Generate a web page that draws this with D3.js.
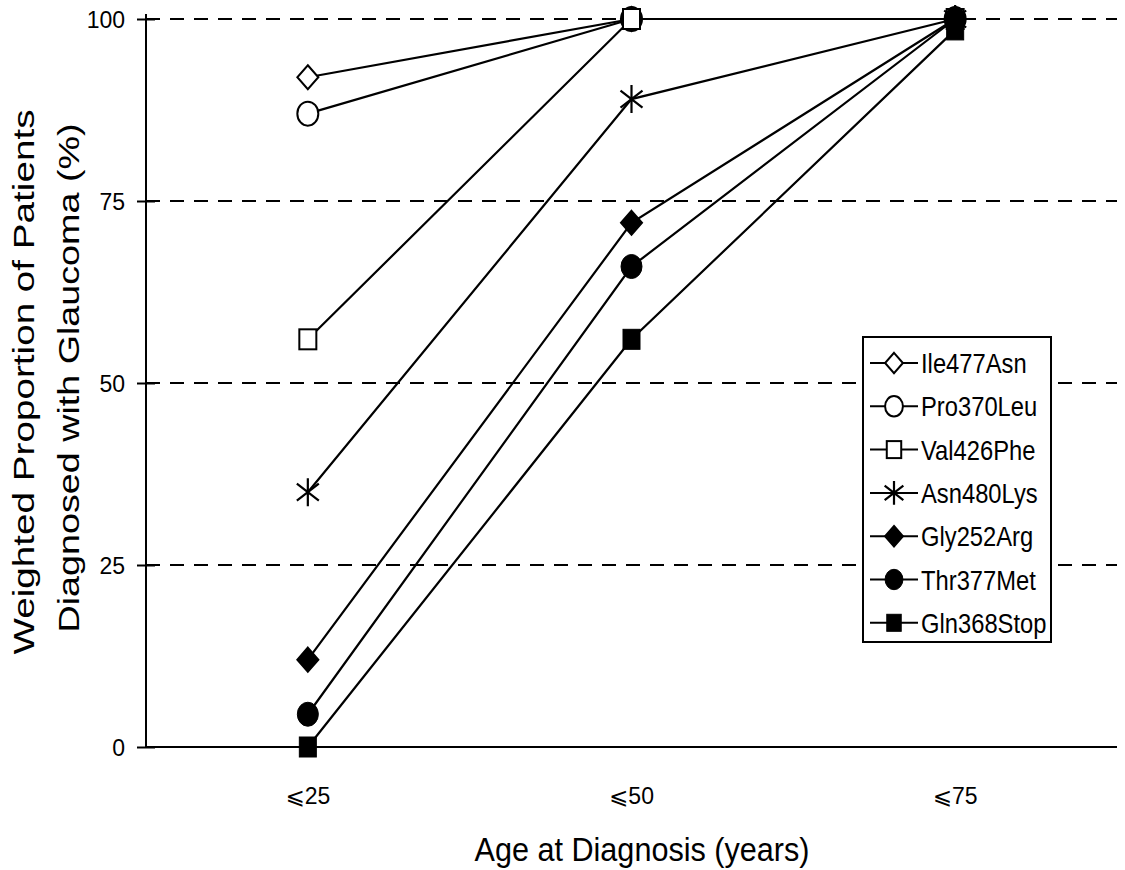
<!DOCTYPE html>
<html>
<head>
<meta charset="utf-8">
<script src="https://cdn.jsdelivr.net/npm/d3@7"></script>
<style>
  html, body { margin: 0; padding: 0; background: #fff; }
  svg { display: block; }
  text { font-family: "Liberation Sans", Arial, "DejaVu Sans", sans-serif; fill: #000; }
</style>
</head>
<body>
<svg id="chart" width="1125" height="870"></svg>
<script>
// Age groups at diagnosis
const categories = ["\u2A7D25", "\u2A7D50", "\u2A7D75"];

// Weighted proportion (%) diagnosed, per mutation
const seriesNames = ["Ile477Asn", "Pro370Leu", "Val426Phe", "Asn480Lys", "Gly252Arg", "Thr377Met", "Gln368Stop"];
const ile477Asn  = [92, 100, 100];
const pro370Leu  = [87, 100, 100];
const val426Phe  = [56, 100, 100];
const asn480Lys  = [35, 89, 100];
const gly252Arg  = [12, 72, 100];
const thr377Met  = [4.5, 66, 100];
const gln368Stop = [0, 56, 98.5];

const yTicks = [0, 25, 50, 75, 100];
const gridValues = [25, 50, 75, 100];

const seriesValues = [ile477Asn, pro370Leu, val426Phe, asn480Lys, gly252Arg, thr377Met, gln368Stop];
const markerKinds = ["diamondOpen", "circleOpen", "squareOpen", "asterisk", "diamond", "circle", "square"];

const svg = d3.select("#chart");
const plotLeft = 146, plotRight = 1117, plotTop = 19, plotBottom = 747;

const x = d3.scaleBand().domain(categories).range([plotLeft, plotRight]);
const y = d3.scaleLinear().domain([0, 100]).range([plotBottom, plotTop]);

// Dashed horizontal gridlines
svg.append("g").selectAll("line").data(gridValues).join("line")
  .attr("x1", plotLeft).attr("x2", plotRight)
  .attr("y1", d => y(d)).attr("y2", d => y(d))
  .attr("stroke", "#000").attr("stroke-width", 2)
  .attr("stroke-dasharray", "14,10");

// Y axis with ticks crossing the line
const yAxis = svg.append("g").attr("transform", `translate(${plotLeft},0)`)
  .call(d3.axisLeft(y).tickValues(yTicks).tickSize(9).tickPadding(12));
yAxis.select(".domain").remove();
yAxis.append("line").attr("x1", 0).attr("x2", 0).attr("y1", plotTop - 5).attr("y2", plotBottom)
  .attr("stroke", "#000").attr("stroke-width", 2);
yAxis.selectAll(".tick line").attr("x1", -9).attr("x2", 9).attr("stroke", "#000").attr("stroke-width", 2);
yAxis.selectAll(".tick text").attr("font-size", 23).attr("font-family", "Liberation Sans, Arial, sans-serif")
  .attr("fill", "#000").attr("dy", "0.38em");

// X axis (category labels, no tick marks)
const xAxis = svg.append("g").attr("transform", `translate(0,${plotBottom})`)
  .call(d3.axisBottom(x).tickSize(0).tickPadding(0));
xAxis.select(".domain").remove();
xAxis.append("line").attr("x1", plotLeft).attr("x2", plotRight).attr("y1", 0).attr("y2", 0)
  .attr("stroke", "#000").attr("stroke-width", 2);
xAxis.selectAll(".tick text").attr("font-size", 23)
  .attr("font-family", "Liberation Sans, DejaVu Sans, sans-serif")
  .attr("fill", "#000").attr("dy", 0).attr("y", 57);

// Axis titles
svg.append("text").attr("x", 642).attr("y", 861).attr("text-anchor", "middle")
  .attr("font-size", 33).attr("textLength", 335).attr("lengthAdjust", "spacingAndGlyphs")
  .text("Age at Diagnosis (years)");
svg.append("text").attr("transform", "translate(34,382) rotate(-90)").attr("text-anchor", "middle")
  .attr("font-size", 29).attr("textLength", 545).attr("lengthAdjust", "spacingAndGlyphs")
  .text("Weighted Proportion of Patients");
svg.append("text").attr("transform", "translate(79,378) rotate(-90)").attr("text-anchor", "middle")
  .attr("font-size", 29).attr("textLength", 509).attr("lengthAdjust", "spacingAndGlyphs")
  .text("Diagnosed with Glaucoma (%)");

// Marker shapes, drawn slightly taller than wide
function drawMarker(g, kind, k) {
  const hw = 10.5 * k, hh = 12 * k;
  const filled = !kind.endsWith("Open") && kind !== "asterisk";
  const fill = filled ? "#000" : "#fff";
  const base = kind.replace("Open", "");
  if (base === "diamond") {
    g.append("path").attr("d", `M0,${-hh}L${hw},0L0,${hh}L${-hw},0Z`)
      .attr("fill", fill).attr("stroke", "#000").attr("stroke-width", 2);
  } else if (base === "circle") {
    g.append("ellipse").attr("rx", 10.5 * k).attr("ry", 12 * k)
      .attr("fill", fill).attr("stroke", "#000").attr("stroke-width", filled ? 1 : 2);
  } else if (base === "square") {
    g.append("rect").attr("x", -8.5 * k).attr("y", -10 * k).attr("width", 17 * k).attr("height", 20 * k)
      .attr("fill", fill).attr("stroke", "#000").attr("stroke-width", filled ? 1 : 2);
  } else {
    const v = 14 * k, dx = 11 * k, dy = 8.5 * k;
    g.append("path").attr("d", `M0,${-v}L0,${v}M${-dx},${-dy}L${dx},${dy}M${-dx},${dy}L${dx},${-dy}`)
      .attr("fill", "none").attr("stroke", "#000").attr("stroke-width", 2.2);
  }
}

// Series lines and markers
const line = d3.line().x((d, i) => x(categories[i]) + x.bandwidth() / 2).y(d => y(d));
seriesValues.forEach((vals, s) => {
  const g = svg.append("g");
  g.append("path").datum(vals).attr("d", line)
    .attr("fill", "none").attr("stroke", "#000").attr("stroke-width", 2.2);
  g.selectAll("g.pt").data(vals).join("g").attr("class", "pt")
    .attr("transform", (d, i) => `translate(${x(categories[i]) + x.bandwidth() / 2},${y(d)})`)
    .each(function () { drawMarker(d3.select(this), markerKinds[s], 1); });
});

// Legend
const lg = svg.append("g");
lg.append("rect").attr("x", 863).attr("y", 337).attr("width", 188).attr("height", 305)
  .attr("fill", "#fff").attr("stroke", "#000").attr("stroke-width", 2);
seriesNames.forEach((name, i) => {
  const cy = 363 + i * 43.3;
  const row = lg.append("g");
  row.append("line").attr("x1", 870).attr("x2", 918).attr("y1", cy).attr("y2", cy)
    .attr("stroke", "#000").attr("stroke-width", 2);
  drawMarker(row.append("g").attr("transform", `translate(894,${cy})`), markerKinds[i], 0.85);
  row.append("text").attr("transform", `translate(921,${cy + 10}) scale(0.88,1.04)`)
    .attr("font-size", 27).text(name);
});
</script>
</body>
</html>
